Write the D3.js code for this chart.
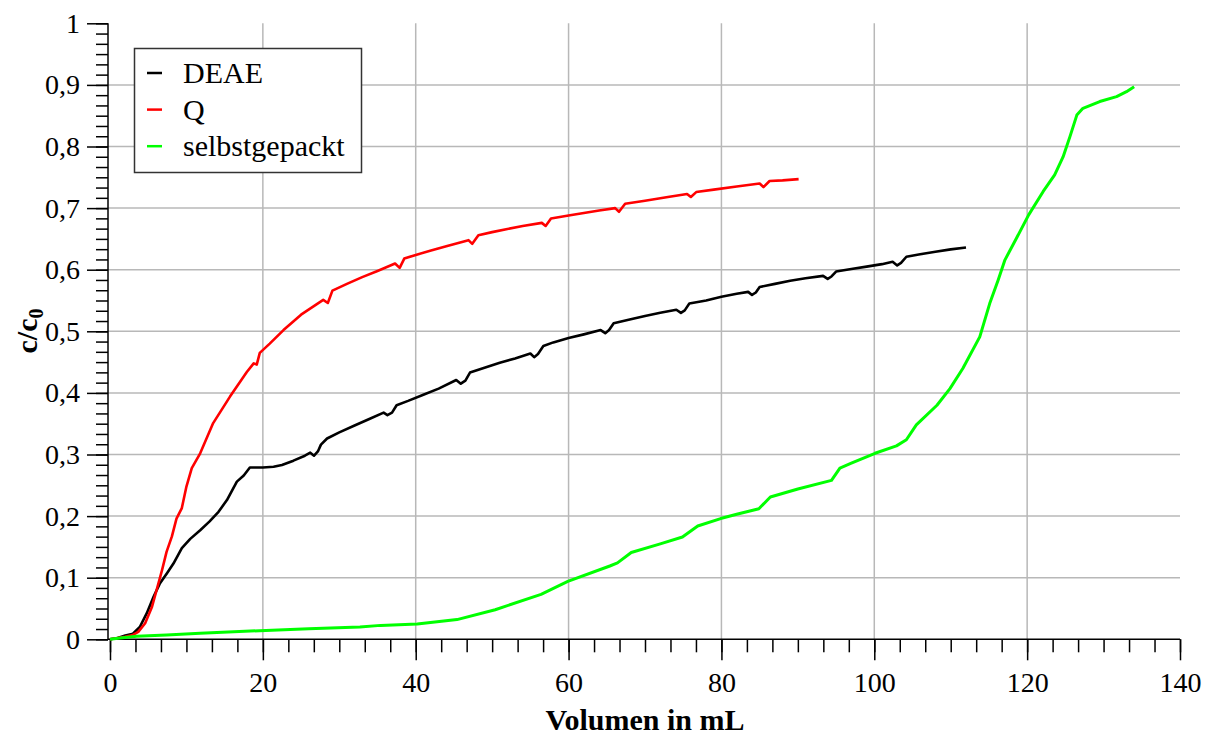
<!DOCTYPE html>
<html>
<head>
<meta charset="utf-8">
<script src="https://cdn.jsdelivr.net/npm/d3@7"></script>
<style>
  html, body { margin: 0; padding: 0; background: #fff; }
  svg { display: block; }
  text { font-family: "Liberation Serif", "Times New Roman", serif; fill: #000; }
</style>
</head>
<body>
<svg id="chart" width="1210" height="736"></svg>
<script>
// ---- data ----
const seriesNames = ["DEAE", "Q", "selbstgepackt"];
const seriesColors = ["#000000", "#ff0000", "#00ff00"];

const deae = [
  [0,0],[1,0.002],[2,0.006],[3,0.009],[3.9,0.02],[4.8,0.042],[5.7,0.069],[6.5,0.09],[7.5,0.108],[8.3,0.123],
  [9.4,0.148],[10.5,0.163],[11.8,0.177],[13,0.191],[14.2,0.207],[15.3,0.226],[16.6,0.256],[17.5,0.266],[18.3,0.279],
  [20,0.279],[21.4,0.28],[22.5,0.283],[24,0.29],[25.5,0.298],[26.2,0.303],[26.7,0.298],[27.2,0.305],[27.6,0.316],
  [28.4,0.326],[30,0.336],[32,0.347],[34,0.358],[35.8,0.368],[36.3,0.364],[36.9,0.368],[37.5,0.38],[39,0.387],
  [41,0.397],[43,0.407],[45.3,0.421],[45.9,0.415],[46.5,0.42],[47.1,0.433],[49,0.441],[51,0.449],[53,0.456],
  [55,0.464],[55.5,0.458],[56,0.463],[56.7,0.476],[58,0.482],[60,0.489],[62,0.495],[64.2,0.502],[64.8,0.497],
  [65.3,0.502],[65.9,0.513],[68,0.519],[70,0.525],[72,0.53],[74.1,0.535],[74.7,0.53],[75.2,0.534],[75.8,0.545],
  [78,0.55],[80,0.556],[82,0.561],[83.5,0.564],[84,0.559],[84.5,0.563],[85,0.572],[87,0.577],[89,0.582],[91,0.586],
  [93.3,0.59],[93.9,0.585],[94.4,0.589],[95,0.597],[97,0.601],[99,0.605],[101,0.609],[102.4,0.613],[103,0.607],
  [103.5,0.611],[104.2,0.621],[106,0.625],[108,0.629],[110,0.633],[112,0.636]
];

const q = [
  [0,0],[1,0.002],[2,0.004],[3,0.007],[3.7,0.012],[4.6,0.026],[5.5,0.053],[6.1,0.08],[6.8,0.112],[7.4,0.142],
  [8.1,0.167],[8.7,0.196],[9.4,0.213],[10,0.248],[10.7,0.278],[11.8,0.302],[13.5,0.351],[15.7,0.394],[17.9,0.434],
  [18.8,0.448],[19.2,0.446],[19.6,0.465],[20.9,0.48],[22.7,0.502],[25,0.527],[27.9,0.551],[28.5,0.546],[29.1,0.566],
  [31,0.577],[33,0.588],[35,0.598],[37.3,0.61],[37.9,0.603],[38.5,0.618],[40,0.624],[42,0.631],[44,0.638],
  [46.9,0.648],[47.4,0.642],[48.2,0.656],[50,0.661],[52,0.666],[54,0.671],[56.5,0.676],[57,0.671],[57.7,0.683],
  [60,0.688],[62,0.692],[64,0.696],[66.1,0.7],[66.6,0.694],[67.4,0.707],[70,0.712],[73,0.718],[75.5,0.723],
  [76,0.718],[76.7,0.726],[79,0.73],[82,0.735],[85,0.74],[85.5,0.734],[86.3,0.744],[88,0.745],[90.1,0.747]
];

const selbst = [
  [0,0],[1.3,0.002],[3.5,0.005],[7.4,0.007],[11.8,0.01],[19.6,0.014],[26,0.017],[32.7,0.02],[35.4,0.0226],
  [40.2,0.025],[45.4,0.032],[50.4,0.048],[56.4,0.073],[59.9,0.094],[65.4,0.119],[66.4,0.124],[68.2,0.141],
  [72,0.155],[74.9,0.166],[76.9,0.184],[79.9,0.196],[82,0.203],[84.9,0.212],[86.4,0.231],[90,0.244],[94.4,0.258],
  [95.5,0.278],[97,0.286],[100.1,0.302],[102.9,0.314],[104.2,0.324],[105.5,0.348],[108.2,0.38],[109.9,0.407],
  [111.6,0.44],[113.8,0.491],[115.1,0.545],[116.2,0.583],[117.1,0.616],[118.6,0.651],[120.2,0.689],[122.1,0.727],
  [123.6,0.754],[124.7,0.783],[125.6,0.816],[126.5,0.851],[127.3,0.862],[129.5,0.873],[131.7,0.881],[133,0.889],
  [134,0.897]
];

const xTicks = [0, 20, 40, 60, 80, 100, 120, 140];
const yTicks = [0, 0.1, 0.2, 0.3, 0.4, 0.5, 0.6, 0.7, 0.8, 0.9, 1];
const yTickLabels = ["0", "0,1", "0,2", "0,3", "0,4", "0,5", "0,6", "0,7", "0,8", "0,9", "1"];
const xTitle = "Volumen in mL";

// ---- drawing ----
const svg = d3.select("#chart");
const x = d3.scaleLinear().domain([0, 140]).range([110, 1180]);
const y = d3.scaleLinear().domain([0, 1]).range([639.3, 23.3]);
const axisX = 108;

// grid
const grid = svg.append("g").attr("stroke", "#b8b8b8").attr("stroke-width", 1.5);
grid.selectAll("line.vx").data(xTicks.filter(d => d > 0 && d < 140)).join("line")
  .attr("x1", d => x(d)).attr("x2", d => x(d)).attr("y1", y(0)).attr("y2", y(1));
grid.selectAll("line.hy").data(yTicks.filter(d => d > 0 && d < 1)).join("line")
  .attr("x1", axisX).attr("x2", x(140)).attr("y1", d => y(d)).attr("y2", d => y(d));

// minor ticks
const xMinor = d3.range(0, 140.0001, 20 / 6);
const yMinor = d3.range(0, 1.00001, 0.1 / 6);

const gx = svg.append("g").attr("transform", `translate(0,${y(0)})`);
gx.call(d3.axisBottom(x).tickValues(xMinor).tickSize(13).tickFormat(""));
gx.call(g => g.select(".domain").remove());
const gx2 = svg.append("g").attr("transform", `translate(0,${y(0)})`);
gx2.call(d3.axisBottom(x).tickValues(xTicks).tickSize(21).tickSizeOuter(0).tickPadding(12).tickFormat(d3.format("d")));
gx2.select(".domain").remove();
gx2.selectAll("text").attr("font-size", 28).attr("font-family", "Liberation Serif").attr("fill", "#000");
gx.selectAll("line").attr("stroke", "#000").attr("stroke-width", 1.5);
gx2.selectAll("line").attr("stroke", "#000").attr("stroke-width", 1.5);

const gy = svg.append("g").attr("transform", `translate(${axisX},0)`);
gy.call(d3.axisLeft(y).tickValues(yMinor).tickSize(12).tickFormat(""));
gy.select(".domain").remove();
const gy2 = svg.append("g").attr("transform", `translate(${axisX},0)`);
gy2.call(d3.axisLeft(y).tickValues(yTicks).tickSize(21).tickSizeOuter(0).tickPadding(7)
  .tickFormat((d, i) => yTickLabels[i]));
gy2.select(".domain").remove();
gy2.selectAll("text").attr("font-size", 28).attr("font-family", "Liberation Serif").attr("fill", "#000");
gy.selectAll("line").attr("stroke", "#000").attr("stroke-width", 1.5);
gy2.selectAll("line").attr("stroke", "#000").attr("stroke-width", 1.5);

// axis lines
svg.append("line").attr("x1", axisX).attr("x2", axisX).attr("y1", y(0)).attr("y2", y(1))
  .attr("stroke", "#000").attr("stroke-width", 1.5);
svg.append("line").attr("x1", axisX).attr("x2", x(140)).attr("y1", y(0)).attr("y2", y(0))
  .attr("stroke", "#000").attr("stroke-width", 1.5);

// series
const line = d3.line().x(d => x(d[0])).y(d => y(d[1]));
const allSeries = [deae, q, selbst];
const widths = [2.6, 2.6, 3];
svg.append("g").selectAll("path").data(allSeries).join("path")
  .attr("d", d => line(d))
  .attr("fill", "none")
  .attr("stroke", (d, i) => seriesColors[i])
  .attr("stroke-width", (d, i) => widths[i])
  .attr("stroke-linejoin", "round");

// legend
const lg = svg.append("g");
lg.append("rect").attr("x", 134.5).attr("y", 48.5).attr("width", 227).attr("height", 124)
  .attr("fill", "#fff").attr("stroke", "#333").attr("stroke-width", 1.5);
seriesNames.forEach((name, i) => {
  const yy = 73 + i * 36.6;
  lg.append("line").attr("x1", 147).attr("x2", 162).attr("y1", yy).attr("y2", yy)
    .attr("stroke", seriesColors[i]).attr("stroke-width", 2.5);
  lg.append("text").attr("x", 183).attr("y", yy + 10).attr("font-size", 30).text(name);
});

// axis titles
svg.append("text").attr("x", 645).attr("y", 730).attr("text-anchor", "middle")
  .attr("font-size", 30).attr("font-weight", "bold").text(xTitle);

const yt = svg.append("text").attr("transform", "translate(37,331) rotate(-90)")
  .attr("text-anchor", "middle").attr("font-size", 30).attr("font-weight", "bold");
yt.append("tspan").text("c/c");
yt.append("tspan").attr("font-size", 20).attr("dy", 6).text("0");
</script>
</body>
</html>
